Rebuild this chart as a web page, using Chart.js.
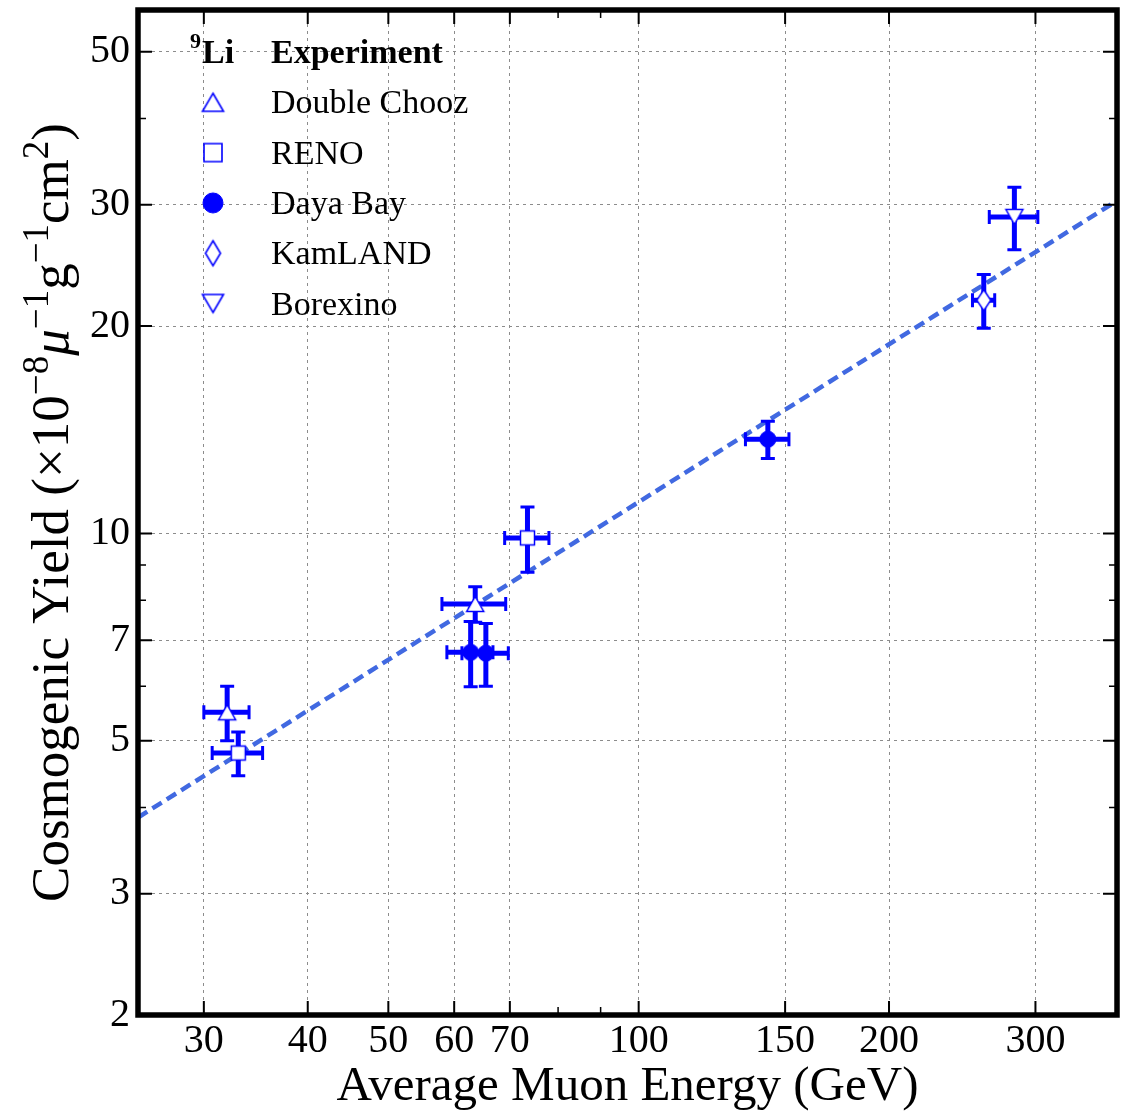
<!DOCTYPE html>
<html>
<head>
<meta charset="utf-8">
<script src="https://cdn.jsdelivr.net/npm/chart.js@4.4.0/dist/chart.umd.min.js"></script>
<style>
  html, body { margin: 0; padding: 0; background: #fff; }
  canvas { display: block; }
</style>
</head>
<body>
<canvas id="chart" width="1132" height="1112"></canvas>
<script>
// axis ticks
const energyTicks = [30, 40, 50, 60, 70, 100, 150, 200, 300];
const energyMinorTicks = [80, 90];
const yieldTicks = [2, 3, 5, 7, 10, 20, 30, 50];
const yieldMinorTicks = [4, 6, 8, 9, 40];

// Double Chooz
const dcEnergy = [32.0, 63.6];
const dcEnergyErr = [2.0, 5.6];
const dcYield = [5.5, 7.9];
const dcYieldErr = [0.5, 0.47];

// RENO
const renoEnergy = [33.0, 73.5];
const renoEnergyErr = [2.3, 4.5];
const renoYield = [4.8, 9.85];
const renoYieldErr = [0.35, 1.07];

// Daya Bay
const dybEnergy = [62.8, 65.5, 143];
const dybEnergyErr = [4.0, 4.2, 8.6];
const dybYield = [6.72, 6.7, 13.7];
const dybYieldErr = [0.73, 0.7, 0.85];

// KamLAND
const klEnergy = [260];
const klEnergyErr = [8];
const klYield = [21.8];
const klYieldErr = [1.95];

// Borexino
const bxEnergy = [283];
const bxEnergyErr = [19];
const bxYield = [28.8];
const bxYieldErr = [3.0];

// power-law fit, ends at the plot edges
const fitEnergy = [25, 376];
const fitYield = [3.87, 30.4];

const BLUE = '#0000ff';
const FIT = '#4169e1';
const SERIF = "'Liberation Serif', 'Times New Roman', serif";

Chart.defaults.font.family = SERIF;
Chart.defaults.color = '#000';

function makeMarker(shape, w, h, filled, lw) {
  const c = document.createElement('canvas');
  c.width = Math.ceil(w + lw * 2 + 2);
  c.height = Math.ceil(h + lw * 2 + 2);
  const g = c.getContext('2d');
  g.translate(c.width / 2, c.height / 2);
  const a = w / 2, b = h / 2;
  g.beginPath();
  if (shape === 'up') { g.moveTo(0, -b); g.lineTo(a, b); g.lineTo(-a, b); }
  else if (shape === 'down') { g.moveTo(0, b); g.lineTo(a, -b); g.lineTo(-a, -b); }
  else if (shape === 'square') g.rect(-a, -b, w, h);
  else if (shape === 'diamond') { g.moveTo(0, -b); g.lineTo(a, 0); g.lineTo(0, b); g.lineTo(-a, 0); }
  else g.arc(0, 0, a, 0, Math.PI * 2);
  g.closePath();
  g.fillStyle = filled ? BLUE : '#fff';
  g.fill();
  g.lineWidth = lw;
  g.strokeStyle = BLUE;
  g.stroke();
  return c;
}

const dataMarkers = {
  up: makeMarker('up', 17, 15, false, 1.5),
  square: makeMarker('square', 14, 14, false, 1.5),
  circle: makeMarker('circle', 16, 16, true, 1),
  diamond: makeMarker('diamond', 14, 21, false, 1.5),
  down: makeMarker('down', 17, 15, false, 1.5)
};
const legendMarkers = [
  ['Double Chooz', makeMarker('up', 21, 18, false, 1.6)],
  ['RENO', makeMarker('square', 18, 18, false, 1.6)],
  ['Daya Bay', makeMarker('circle', 20, 20, true, 1)],
  ['KamLAND', makeMarker('diamond', 15, 25, false, 1.6)],
  ['Borexino', makeMarker('down', 21, 18, false, 1.6)]
];

function points(xs, ys) {
  return xs.map((x, i) => ({ x: x, y: ys[i] }));
}

// error bars under each experiment's markers
const errorBars = {
  id: 'errorBars',
  beforeDatasetDraw(chart, args) {
    const ds = chart.data.datasets[args.index];
    if (!ds.xErr) return;
    const xs = chart.scales.x, ys = chart.scales.y;
    const ctx = chart.ctx;
    const cap = 7;
    ctx.save();
    ctx.strokeStyle = BLUE;
    ds.data.forEach((p, i) => {
      const px = xs.getPixelForValue(p.x), py = ys.getPixelForValue(p.y);
      const x0 = xs.getPixelForValue(p.x - ds.xErr[i]);
      const x1 = xs.getPixelForValue(p.x + ds.xErr[i]);
      const y0 = ys.getPixelForValue(p.y - ds.yErr[i]);
      const y1 = ys.getPixelForValue(p.y + ds.yErr[i]);
      ctx.lineWidth = 5;
      ctx.beginPath();
      ctx.moveTo(x0, py); ctx.lineTo(x1, py);
      ctx.moveTo(px, y0); ctx.lineTo(px, y1);
      ctx.stroke();
      ctx.lineWidth = 3;
      ctx.beginPath();
      ctx.moveTo(x0, py - cap); ctx.lineTo(x0, py + cap);
      ctx.moveTo(x1, py - cap); ctx.lineTo(x1, py + cap);
      ctx.moveTo(px - cap, y0); ctx.lineTo(px + cap, y0);
      ctx.moveTo(px - cap, y1); ctx.lineTo(px + cap, y1);
      ctx.stroke();
    });
    ctx.restore();
  }
};

// frame with inward ticks on all four sides
const frame = {
  id: 'frame',
  afterDatasetsDraw(chart) {
    const { ctx, chartArea: a } = chart;
    const xs = chart.scales.x, ys = chart.scales.y;
    ctx.save();
    ctx.strokeStyle = '#000';
    const tick = (list, len, lw) => {
      ctx.lineWidth = lw;
      ctx.beginPath();
      list.forEach(v => {
        const px = xs.getPixelForValue(v);
        ctx.moveTo(px, a.bottom); ctx.lineTo(px, a.bottom - len);
        ctx.moveTo(px, a.top); ctx.lineTo(px, a.top + len);
      });
      ctx.stroke();
    };
    const ytick = (list, len, lw) => {
      ctx.lineWidth = lw;
      ctx.beginPath();
      list.forEach(v => {
        const py = ys.getPixelForValue(v);
        ctx.moveTo(a.left, py); ctx.lineTo(a.left + len, py);
        ctx.moveTo(a.right, py); ctx.lineTo(a.right - len, py);
      });
      ctx.stroke();
    };
    tick(energyTicks, 14, 2);
    tick(energyMinorTicks, 8, 1.5);
    ytick(yieldTicks, 14, 2);
    ytick(yieldMinorTicks, 8, 1.5);
    ctx.lineWidth = 5.5;
    ctx.strokeRect(a.left, a.top, a.right - a.left, a.bottom - a.top);
    ctx.restore();
  }
};

// legend box in the upper left of the plot
const legendBox = {
  id: 'legendBox',
  afterDraw(chart) {
    const ctx = chart.ctx;
    const mx = 213, tx = 271, y0 = 52, step = 50.3;
    ctx.save();
    ctx.fillStyle = '#000';
    ctx.textBaseline = 'alphabetic';
    ctx.font = 'bold 22px ' + SERIF;
    ctx.fillText('9', 190, 48);
    ctx.font = 'bold 34px ' + SERIF;
    ctx.fillText('Li', 202, 63);
    ctx.fillText('Experiment', tx, 63);
    ctx.font = '34px ' + SERIF;
    legendMarkers.forEach(([name, m], i) => {
      const y = y0 + step * (i + 1);
      ctx.drawImage(m, mx - m.width / 2, y - m.height / 2);
      ctx.fillText(name, tx, y + 11);
    });
    ctx.restore();
  }
};

// y axis title with raised exponents
const yTitle = {
  id: 'yTitle',
  afterDraw(chart) {
    const { ctx, chartArea: a } = chart;
    const main = 53, sup = 37, rise = 20;
    const parts = [
      { t: 'Cosmogenic Yield (\u00d710' },
      { t: '\u22128', sup: true },
      { t: '\u03bc', it: true },
      { t: '\u22121', sup: true },
      { t: 'g' },
      { t: '\u22121', sup: true },
      { t: 'cm' },
      { t: '2', sup: true },
      { t: ')' }
    ];
    const fontOf = p => (p.it ? 'italic ' : '') + (p.sup ? sup : main) + 'px ' + SERIF;
    ctx.save();
    let total = 0;
    parts.forEach(p => { ctx.font = fontOf(p); p.w = ctx.measureText(p.t).width; total += p.w; });
    ctx.translate(68, (a.top + a.bottom) / 2);
    ctx.rotate(-Math.PI / 2);
    ctx.fillStyle = '#000';
    ctx.textBaseline = 'alphabetic';
    let x = -total / 2;
    parts.forEach(p => {
      ctx.font = fontOf(p);
      ctx.fillText(p.t, x, p.sup ? -rise : 0);
      x += p.w;
    });
    ctx.restore();
  }
};

new Chart(document.getElementById('chart'), {
  type: 'scatter',
  data: {
    datasets: [
      { label: 'Double Chooz', data: points(dcEnergy, dcYield), xErr: dcEnergyErr, yErr: dcYieldErr, pointStyle: dataMarkers.up, pointRadius: 8 },
      { label: 'RENO', data: points(renoEnergy, renoYield), xErr: renoEnergyErr, yErr: renoYieldErr, pointStyle: dataMarkers.square, pointRadius: 8 },
      { label: 'Daya Bay', data: points(dybEnergy, dybYield), xErr: dybEnergyErr, yErr: dybYieldErr, pointStyle: dataMarkers.circle, pointRadius: 8 },
      { label: 'KamLAND', data: points(klEnergy, klYield), xErr: klEnergyErr, yErr: klYieldErr, pointStyle: dataMarkers.diamond, pointRadius: 8 },
      { label: 'Borexino', data: points(bxEnergy, bxYield), xErr: bxEnergyErr, yErr: bxYieldErr, pointStyle: dataMarkers.down, pointRadius: 8 },
      { label: 'Fit', data: points(fitEnergy, fitYield), showLine: true, pointRadius: 0, borderColor: FIT, borderWidth: 4.5, borderDash: [11, 6] }
    ]
  },
  options: {
    responsive: false,
    animation: false,
    devicePixelRatio: 1,
    layout: { padding: { top: 10, right: 15, left: 0, bottom: 0 } },
    plugins: {
      legend: { display: false },
      tooltip: { enabled: false }
    },
    scales: {
      x: {
        type: 'logarithmic',
        min: 25,
        max: 376,
        afterBuildTicks: scale => { scale.ticks = energyTicks.map(v => ({ value: v })); },
        afterFit: scale => { scale.height = 97; scale.paddingLeft = 0; scale.paddingRight = 0; },
        ticks: { callback: v => String(v), font: { size: 40 }, padding: 2, maxRotation: 0, autoSkip: false },
        grid: { color: '#8c8c8c', lineWidth: 1, drawTicks: false },
        border: { display: false, dash: [3, 4] },
        title: { display: true, text: 'Average Muon Energy (GeV)', font: { size: 49, lineHeight: 1 }, padding: { top: 0, bottom: 0 } }
      },
      y: {
        type: 'logarithmic',
        min: 2,
        max: 57.5,
        afterBuildTicks: scale => { scale.ticks = yieldTicks.map(v => ({ value: v })); },
        afterFit: scale => { scale.width = 138; scale.paddingTop = 0; scale.paddingBottom = 0; },
        ticks: { callback: v => String(v), font: { size: 40 }, padding: 8, autoSkip: false },
        grid: { color: '#8c8c8c', lineWidth: 1, drawTicks: false },
        border: { display: false, dash: [3, 4] },
        title: { display: false }
      }
    }
  },
  plugins: [errorBars, frame, legendBox, yTitle]
});
</script>
</body>
</html>
